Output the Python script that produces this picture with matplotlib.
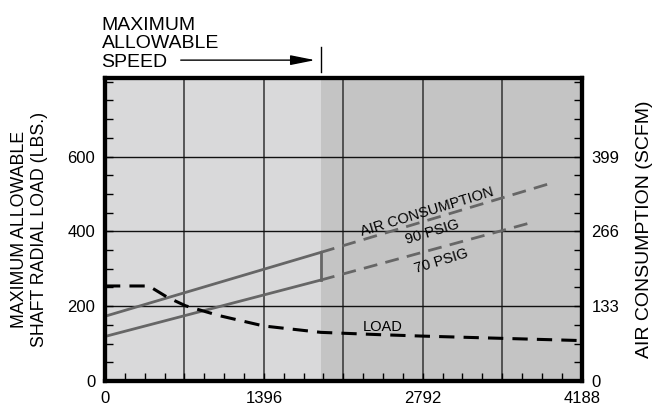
import matplotlib.pyplot as plt
import numpy as np

plt.rcParams['font.family'] = ['Liberation Sans', 'DejaVu Sans']

# speed axis (x) and shaft radial load (left y)
x_max = 4188
x_ticks = [0, 1396, 2792, 4188]
x_grid = [698, 1396, 2094, 2792, 3490]
y_ticks = [0, 200, 400, 600]
air_ticks = [0, 133, 266, 399]
max_speed = 1898

# air consumption lines (in left-axis units), solid up to max speed, dashed after
psig90_x = [0, 1898, 3943]
psig90_y = [173, 344, 531]
psig70_x = [0, 1898, 3716]
psig70_y = [119, 270, 421]

# allowable load curve
load_x = [0, 385, 547, 708, 1000, 1396, 1897, 2400, 2792, 3490, 4188]
load_y = [254, 254, 224, 201, 175, 147, 130, 124, 120, 114, 108]

y_top = 810
air_scale = 0.665

fig = plt.figure(figsize=(6.55, 4.08), dpi=100)
ax = fig.add_axes([0.1603, 0.0662, 0.7277, 0.7426])

ax.set_xlim(0, x_max)
ax.set_ylim(0, y_top)

# background zones
ax.axvspan(0, max_speed, color='#d9d9da', zorder=0, lw=0)
ax.axvspan(max_speed, x_max, color='#c4c4c4', zorder=0, lw=0)

for gx in x_grid:
    ax.axvline(gx, color='#333333', lw=1.1, zorder=1)
for gy in y_ticks[1:]:
    ax.axhline(gy, color='#111111', lw=1, zorder=1)

line_col = '#666666'
ax.plot(psig90_x[:2], psig90_y[:2], color=line_col, lw=2, zorder=3)
ax.plot(psig90_x[1:], psig90_y[1:], color=line_col, lw=2, ls=(0, (5, 3)), zorder=3)
ax.plot(psig70_x[:2], psig70_y[:2], color=line_col, lw=2, zorder=3)
ax.plot(psig70_x[1:], psig70_y[1:], color=line_col, lw=2, ls=(0, (5, 3)), zorder=3)
ax.plot([max_speed, max_speed], [psig70_y[1], psig90_y[1]], color=line_col, lw=2, zorder=3)

ax.plot(load_x, load_y, color='black', lw=2.2, ls=(0, (5, 3)), zorder=4)

ax.text(2829, 452, 'AIR CONSUMPTION', rotation=17, fontsize=10.5, ha='center', va='center')
ax.text(2873, 398, '90 PSIG', rotation=17, fontsize=10.5, ha='center', va='center')
ax.text(2952, 320, '70 PSIG', rotation=17, fontsize=10.5, ha='center', va='center')
ax.text(2442, 145, 'LOAD', fontsize=10.5, ha='center', va='center')

ax.set_xticks(x_ticks)
ax.set_xticks(np.arange(0, x_max + 1, 174.5), minor=True)
ax.set_yticks(y_ticks)
ax.set_yticks(np.arange(0, y_top, 50), minor=True)
ax.tick_params(which='both', direction='in', length=5.5, width=1, labelsize=12, pad=7)
for sp in ax.spines.values():
    sp.set_linewidth(3)

ax.set_ylabel('MAXIMUM ALLOWABLE\nSHAFT RADIAL LOAD (LBS.)', fontsize=12.8, labelpad=14,
              linespacing=1.2)

ax2 = ax.twinx()
ax2.set_ylim(0, y_top * air_scale)
ax2.set_yticks(air_ticks)
ax2.set_yticks(np.arange(0, y_top * air_scale, 50 * air_scale), minor=True)
ax2.tick_params(which='both', direction='in', length=5.5, width=1, labelsize=12, pad=7)
ax2.set_ylabel('AIR CONSUMPTION (SCFM)', fontsize=14, labelpad=12)
for sp in ax2.spines.values():
    sp.set_linewidth(3)

# maximum allowable speed marker above the plot
tr = ax.get_xaxis_transform()
ax.plot([max_speed, max_speed], [1.02, 1.102], transform=tr, color='black', lw=1, clip_on=False)
ax.annotate('', xy=(max_speed - 28, 1.059), xytext=(641, 1.059), xycoords=tr, textcoords=tr,
            arrowprops=dict(arrowstyle='-|>,head_length=1.5,head_width=0.3', color='black', lw=1))
fig.text(0.155, 0.958, 'MAXIMUM\nALLOWABLE\nSPEED', fontsize=14, ha='left', va='top',
         linespacing=1.1)

fig.savefig('out.png', dpi=100)
